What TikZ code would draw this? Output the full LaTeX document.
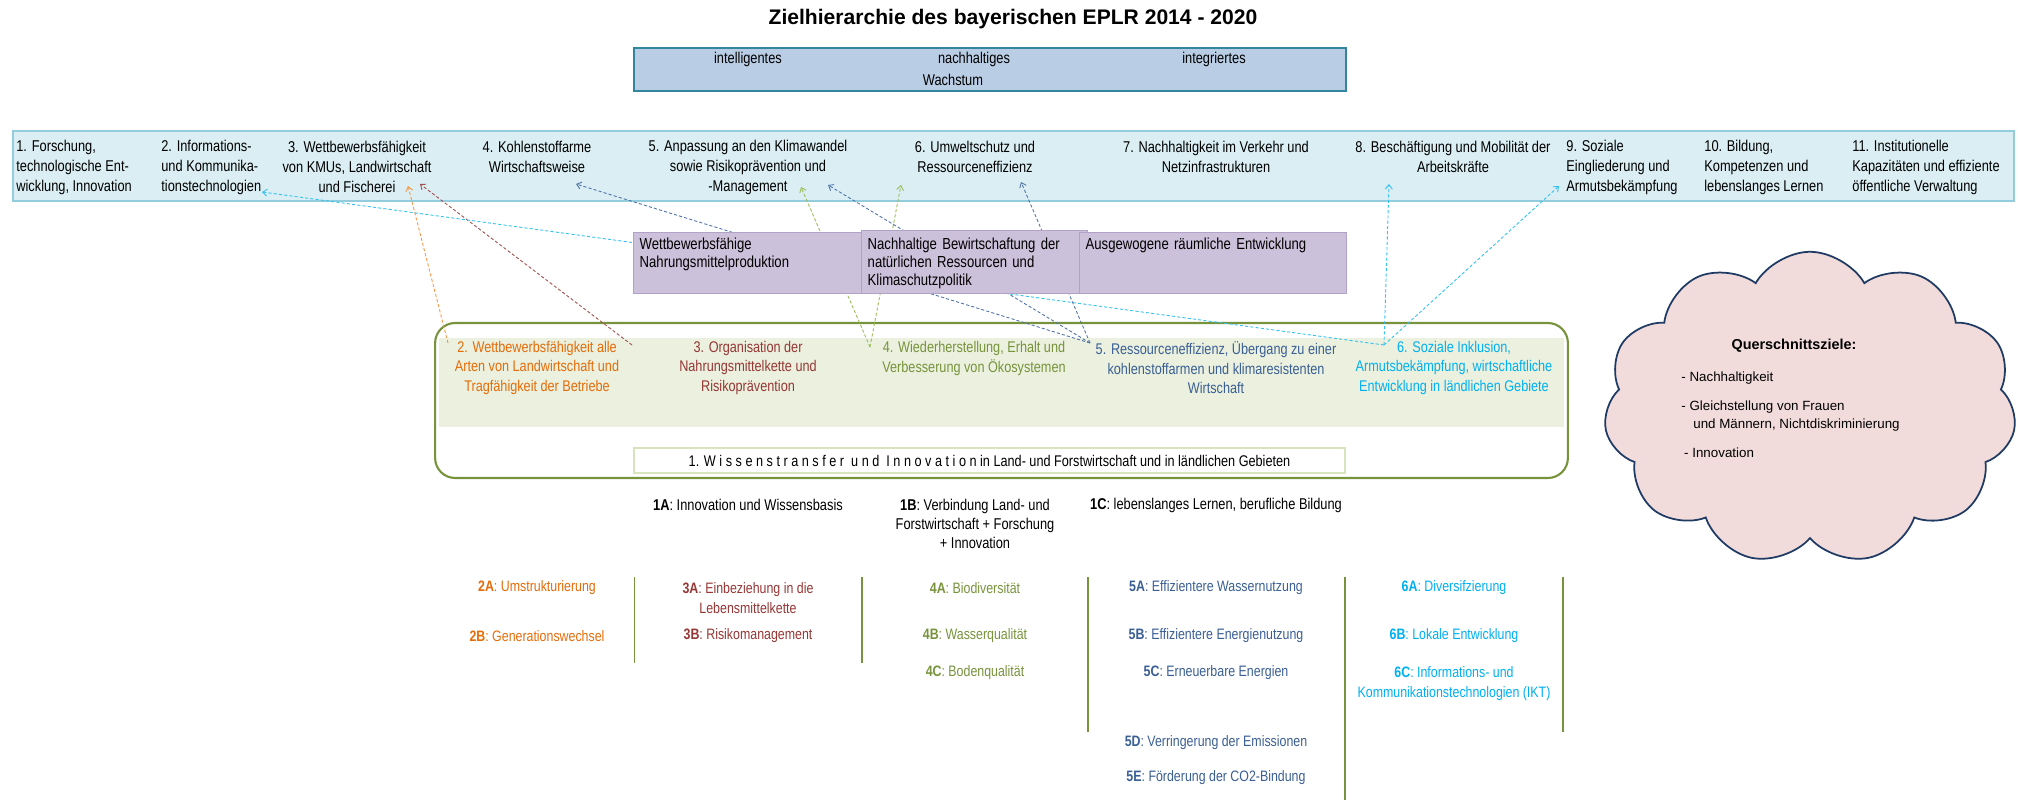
\documentclass[tikz,border=0pt]{standalone}
\usepackage{fontspec}
\setmainfont{Liberation Sans}
\newfontfamily\narrowfont{Liberation Sans}[FakeStretch=0.82]
\usepackage{tikz}
\usetikzlibrary{shapes.symbols,arrows.meta,positioning}

\definecolor{themefill}{HTML}{DAEEF3}
\definecolor{themeline}{HTML}{93CDDD}
\definecolor{wachsfill}{HTML}{B9CDE5}
\definecolor{wachsline}{HTML}{31859C}
\definecolor{purplefill}{HTML}{CCC1DA}
\definecolor{purpleline}{HTML}{B3A2C7}
\definecolor{bandfill}{HTML}{EBF1DE}
\definecolor{prioolive}{HTML}{77933C}
\definecolor{wissline}{HTML}{D7E4BD}
\definecolor{orangetext}{HTML}{E46C0A}
\definecolor{redtext}{HTML}{953735}
\definecolor{greentext}{HTML}{77933C}
\definecolor{bluetext}{HTML}{3A5F95}
\definecolor{cyantext}{HTML}{00B0F0}
\definecolor{orangeline}{HTML}{F79646}
\definecolor{redline}{HTML}{A0504D}
\definecolor{greenline}{HTML}{9BBB59}
\definecolor{blueline}{HTML}{4F72A8}
\definecolor{cyanline}{HTML}{33C1F0}
\definecolor{cloudfill}{HTML}{F2DCDB}
\definecolor{cloudline}{HTML}{1F3B64}

\begin{document}
\begin{tikzpicture}[
    x=0.02cm, y=-0.02cm,
    txt/.style={inner sep=0pt, align=center, font=\narrowfont\fontsize{8.9}{11.4}\selectfont},
    themeleft/.style={txt, anchor=west, align=left},
    pbox/.style={draw=purpleline, fill=purplefill, line width=0.8pt, anchor=north west, inner xsep=0.12cm, inner ysep=0pt, align=left, text height=0.34cm, text depth=0.88cm, font=\narrowfont\fontsize{9.1}{10.2}\selectfont},
    prio/.style={txt, font=\narrowfont\fontsize{8.8}{11.1}\selectfont},
    focus/.style={txt, font=\narrowfont\fontsize{8.6}{11.6}\selectfont},
    conn/.style={line width=0.5pt, dash pattern=on 1.8pt off 1.2pt, -{Straight Barb[length=2.5pt,width=4pt]}},
    sep/.style={draw=prioolive, line width=0.8pt}
]
\useasboundingbox (0,0) rectangle (2018,800);

% title and growth box
\node[inner sep=0pt, font=\bfseries\fontsize{12}{14}\selectfont] (title) at (1013,19) {Zielhierarchie des bayerischen EPLR 2014 - 2020};
\node[draw=wachsline, fill=wachsfill, line width=0.8pt, minimum width=14.24cm, minimum height=0.86cm, inner sep=0pt] (wachstum) at (990,69.5) {};
\node[txt] (intelligent) at (748,59) {intelligentes};
\node[txt] (nachhaltig) at (974,59) {nachhaltiges};
\node[txt] (integriert) at (1214,59) {integriertes};
\node[txt] (wachs) at (953,80) {Wachstum};

% thematic objectives
\node[draw=themeline, fill=themefill, line width=0.8pt, minimum width=40.02cm, minimum height=1.4cm, inner sep=0pt] (themen) at (1013.5,166) {};
\node[themeleft] (t1) at (16,167) {1. Forschung,\\technologische Ent-\\wicklung, Innovation};
\node[themeleft] (t2) at (161,167) {2. Informations-\\und Kommunika-\\tionstechnologien};
\node[txt] (t3) at (357,167) {3. Wettbewerbsfähigkeit\\von KMUs, Landwirtschaft\\und Fischerei};
\node[txt] (t4) at (537,157) {4. Kohlenstoffarme\\Wirtschaftsweise};
\node[txt] (t5) at (748,167) {5. Anpassung an den Klimawandel\\sowie Risikoprävention und\\-Management};
\node[txt] (t6) at (975,157) {6. Umweltschutz und\\Ressourceneffizienz};
\node[txt] (t7) at (1216,157) {7. Nachhaltigkeit im Verkehr und\\Netzinfrastrukturen};
\node[txt] (t8) at (1453,157) {8. Beschäftigung und Mobilität der\\Arbeitskräfte};
\node[themeleft] (t9) at (1566,167) {9. Soziale\\Eingliederung und\\Armutsbekämpfung};
\node[themeleft] (t10) at (1704,167) {10. Bildung,\\Kompetenzen und\\lebenslanges Lernen};
\node[themeleft] (t11) at (1852,167) {11. Institutionelle\\Kapazitäten und effiziente\\öffentliche Verwaltung};

% priorities
\node[draw=prioolive, line width=1.2pt, rounded corners=0.4cm, minimum width=22.66cm, minimum height=3.1cm] (prioframe) at (1001.5,400.5) {};
\node[fill=bandfill, minimum width=22.5cm, minimum height=1.78cm, inner sep=0pt] (band) at (1001.5,382.5) {};
\node[prio, text=orangetext] (p2) at (537,368) {2. Wettbewerbsfähigkeit alle\\Arten von Landwirtschaft und\\Tragfähigkeit der Betriebe};
\node[prio, text=redtext] (p3) at (748,368) {3. Organisation der\\Nahrungsmittelkette und\\Risikoprävention};
\node[prio, text=greentext] (p4) at (974,358.5) {4. Wiederherstellung, Erhalt und\\Verbesserung von Ökosystemen};
\node[prio, text=bluetext] (p5) at (1216,368) {5. Ressourceneffizienz, Übergang zu einer\\kohlenstoffarmen und klimaresistenten\\Wirtschaft};
\node[prio, text=cyantext] (p6) at (1454,368) {6. Soziale Inklusion,\\Armutsbekämpfung, wirtschaftliche\\Entwicklung in ländlichen Gebiete};
\node[draw=wissline, line width=0.8pt, minimum width=14.22cm, minimum height=0.5cm, inner sep=0pt, font=\narrowfont\fontsize{8.8}{10}\selectfont] (wissen) at (989.5,460.5) {1. W i s s e n s t r a n s f e r\ \ u n d\ \ I n n o v a t i o n in Land- und Forstwirtschaft und in ländlichen Gebieten};

% links priority -> objective
\draw[conn, orangeline] ([shift={(-89,-25)}]p2.center) -- ([shift={(51,19)}]t3.center);
\draw[conn, redline] ([shift={(-116,-23)}]p3.center) -- ([shift={(63,17)}]t3.center);
\draw[conn, greenline] ([shift={(-104,-11.5)}]p4.center) -- ([shift={(53,20)}]t5.center);
\draw[conn, greenline] ([shift={(-104,-11.5)}]p4.center) -- ([shift={(-74,28)}]t6.center);
\draw[conn, blueline] ([shift={(-126,-25)}]p5.center) -- ([shift={(39,27)}]t4.center);
\draw[conn, blueline] ([shift={(-126,-25)}]p5.center) -- ([shift={(80,18)}]t5.center);
\draw[conn, blueline] ([shift={(-126,-25)}]p5.center) -- ([shift={(46,25)}]t6.center);
\draw[conn, cyanline] ([shift={(-70,-23)}]p6.center) -- ([shift={(101,25)}]t2.west);
\draw[conn, cyanline] ([shift={(-70,-23)}]p6.center) -- ([shift={(-64,27)}]t8.center);
\draw[conn, cyanline] ([shift={(-70,-23)}]p6.center) -- ([shift={(-7,19)}]t9.west);

% strategic goals
\node[pbox, text width=4.32cm] (nahrung) at (633,232) {Wettbewerbsfähige\\Nahrungsmittelproduktion};
\node[pbox, text width=4.28cm, text height=0.38cm] (ressourcen) at (861,230) {Nachhaltige Bewirtschaftung der\\natürlichen Ressourcen und\\Klimaschutzpolitik};
\node[pbox, text width=5.10cm] (raum) at (1079,232) {Ausgewogene räumliche Entwicklung};

% focus areas
\node[txt] (k1a) at (748,505) {\textbf{1A}: Innovation und Wissensbasis};
\node[txt, font=\narrowfont\fontsize{8.9}{11}\selectfont] (k1b) at (975,524) {\textbf{1B}: Verbindung Land- und\\Forstwirtschaft + Forschung\\+ Innovation};
\node[txt] (k1c) at (1216,505) {\textbf{1C}: lebenslanges Lernen, berufliche Bildung};

\node[focus, text=orangetext] (f2a) at (537,588) {\textbf{2A}: Umstrukturierung};
\node[focus, text=orangetext] (f2b) at (537,636) {\textbf{2B}: Generationswechsel};
\node[focus, text=redtext] (f3a) at (748,598) {\textbf{3A}: Einbeziehung in die\\Lebensmittelkette};
\node[focus, text=redtext] (f3b) at (748,636) {\textbf{3B}: Risikomanagement};
\node[focus, text=greentext] (f4a) at (975,588) {\textbf{4A}: Biodiversität};
\node[focus, text=greentext] (f4b) at (975,636) {\textbf{4B}: Wasserqualität};
\node[focus, text=greentext] (f4c) at (975,673) {\textbf{4C}: Bodenqualität};
\node[focus, text=bluetext] (f5a) at (1216,588) {\textbf{5A}: Effizientere Wassernutzung};
\node[focus, text=bluetext] (f5b) at (1216,636) {\textbf{5B}: Effizientere Energienutzung};
\node[focus, text=bluetext] (f5c) at (1216,673) {\textbf{5C}: Erneuerbare Energien};
\node[focus, text=bluetext] (f5d) at (1216,743) {\textbf{5D}: Verringerung der Emissionen};
\node[focus, text=bluetext] (f5e) at (1216,778) {\textbf{5E}: Förderung der CO2-Bindung};
\node[focus, text=cyantext] (f6a) at (1454,588) {\textbf{6A}: Diversifzierung};
\node[focus, text=cyantext] (f6b) at (1454,636) {\textbf{6B}: Lokale Entwicklung};
\node[focus, text=cyantext] (f6c) at (1454,683.5) {\textbf{6C}: Informations- und\\Kommunikationstechnologien (IKT)};

\draw[sep] (634.5,577) -- (634.5,663);
\draw[sep] (862,577) -- (862,663);
\draw[sep] (1088,577) -- (1088,732);
\draw[sep] (1345,577) -- (1345,800);
\draw[sep] (1563,577) -- (1563,732);

% cross-cutting objectives
\node[cloud, cloud puffs=11, cloud puff arc=120, aspect=1.3, draw=cloudline, fill=cloudfill, line width=1pt, minimum width=8.25cm, minimum height=6.25cm, inner sep=0pt] (quer) at (1810,408) {};
\node[inner sep=0pt, font=\bfseries\fontsize{8.2}{10}\selectfont] (quertitel) at (1794,346) {Querschnittsziele:};
\node[anchor=north west, align=left, inner sep=0pt, font=\fontsize{7.6}{10}\selectfont] (querliste) at (1681,371) {- Nachhaltigkeit\\[7pt]- Gleichstellung von Frauen\\\hspace*{1.7ex}und Männern, Nichtdiskriminierung\\[6.5pt]\hspace*{0.4ex}- Innovation};
\end{tikzpicture}
\end{document}
